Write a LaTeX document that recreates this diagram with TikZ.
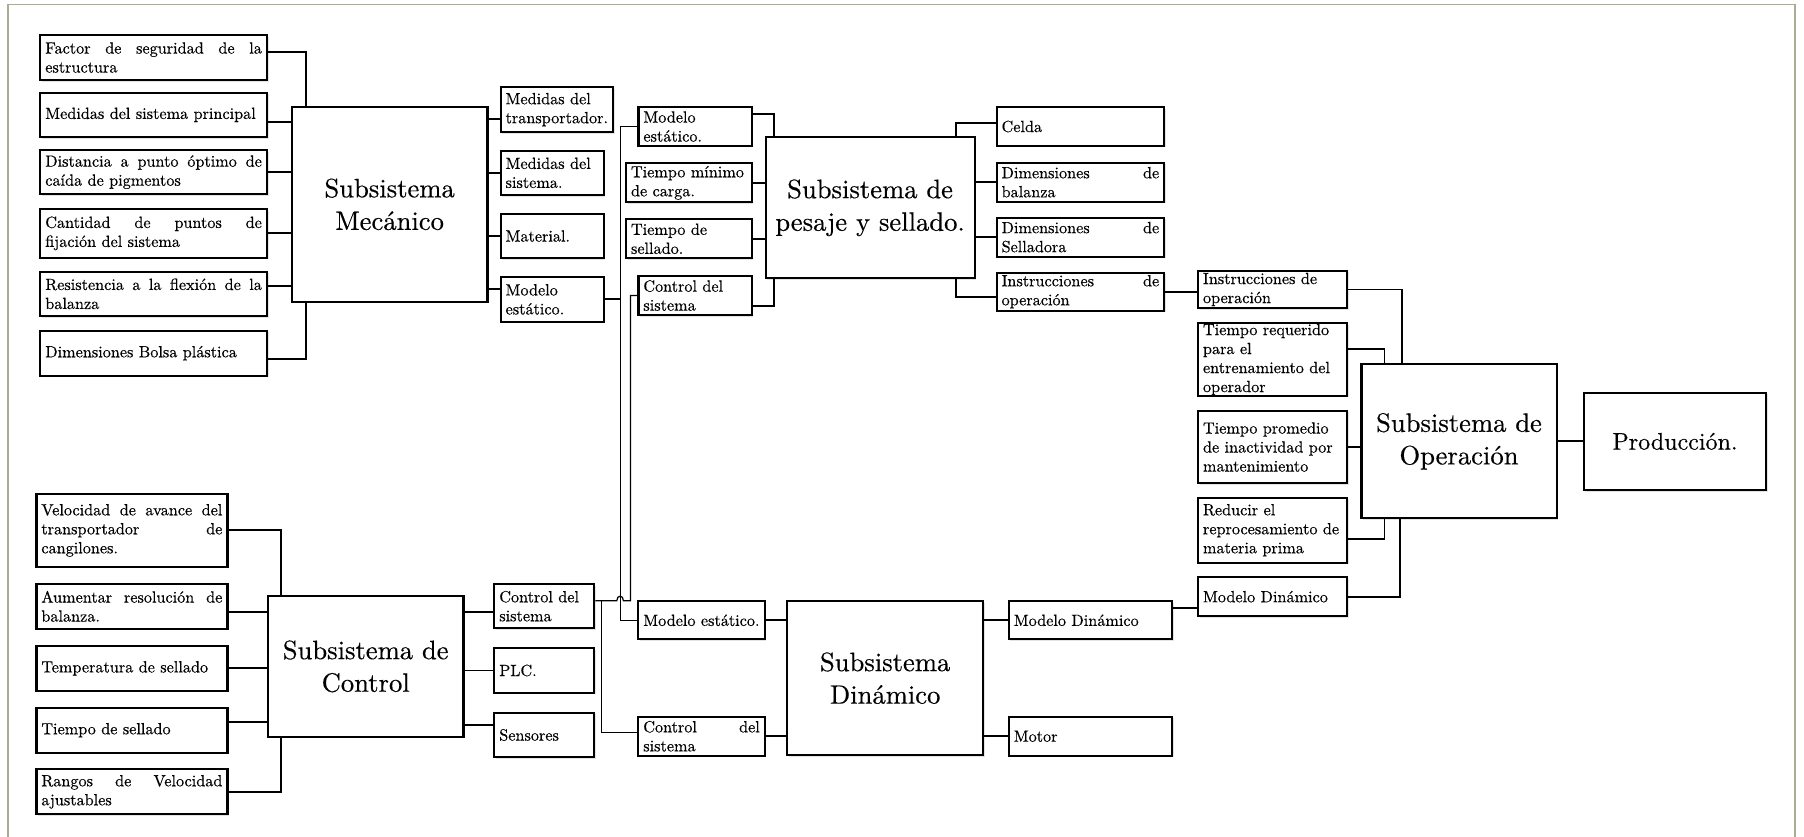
\documentclass[tikz,border=0pt]{standalone}
\usepackage{fontspec}
\setmainfont{lmroman10-regular.otf}[FakeBold=0.4]
\usetikzlibrary{shadows}
\hyphenpenalty=10000
\exhyphenpenalty=10000
\tolerance=9999
\definecolor{framec}{RGB}{168,174,146}
\newcommand\jl[1]{\leavevmode\hbox to \hsize{\spaceskip=0.3333em plus 1fil\relax #1}}
\newcommand\mkbox[7]{%
  \pgfmathsetmacro\bxw{#5-#3}%
  \pgfmathsetmacro\bxh{#6-#4}%
  \pgfmathsetmacro\bxt{#5-#3-10}%
  \pgfmathsetmacro\bxcx{(#3+#5)/2}%
  \pgfmathsetmacro\bxcy{(#4+#6)/2}%
  \node[#1, minimum width=\bxw pt, minimum height=\bxh pt, text width=\bxt pt] (#2) at (\bxcx,\bxcy) {#7};}
\newcommand\linkL[4][conn]{\path ([yshift=#3pt]#2.east) coordinate (hla); \draw[#1] (hla) -- (hla -| #4.west);}
\newcommand\linkR[4][conn]{\path ([yshift=#3pt]#4.west) coordinate (hla); \draw[#1] (hla -| #2.east) -- (hla);}
\tikzset{
  sbox/.style={draw, line width=2.2pt, fill=white, inner xsep=5pt, inner ysep=0pt, align=left,
    font=\fontsize{16.2}{19}\selectfont,
    drop shadow={shadow xshift=1.6pt, shadow yshift=-1.6pt, opacity=0.22}},
  bigbox/.style={sbox, align=center, font=\fontsize{26.6}{32.6}\selectfont},
  prodbox/.style={sbox, align=center, font=\fontsize{24}{29}\selectfont},
  conn/.style={line width=1.8pt},
  busline/.style={line width=1.2pt},
}
\begin{document}
\begin{tikzpicture}[x=1pt,y=-1pt]
\useasboundingbox[fill=white] (0,0) rectangle (1804,837);
\draw[framec, line width=1.3pt] (8,840) -- (8,4.5) -- (1795,4.5) -- (1795,840);

% Mechanical
\mkbox{sbox}{fac}{40.3}{35}{266.9}{80}{\jl{Factor de seguridad de la}\\estructura}
\mkbox{sbox}{mp}{40.3}{92.7}{266.9}{137}{Medidas del sistema principal}
\mkbox{sbox}{dis}{40.3}{150}{266.9}{194.3}{\jl{Distancia a punto óptimo de}\\caída de pigmentos}
\mkbox{sbox}{can}{40.3}{209}{266.9}{257.7}{\jl{Cantidad de puntos de}\\fijación del sistema}
\mkbox{sbox}{res}{40.3}{271.7}{266.9}{316}{\jl{Resistencia a la flexión de la}\\balanza}
\mkbox{sbox}{bol}{40.3}{330.7}{266.9}{375.7}{Dimensiones Bolsa plástica}
\mkbox{bigbox}{mec}{291.8}{107}{487.5}{301.7}{Subsistema\\Mecánico}
\mkbox{sbox}{mt}{500.6}{87.3}{612.9}{132}{Medidas del\\transportador.}
\mkbox{sbox}{ms}{500.6}{150.7}{603.6}{195}{Medidas del\\sistema.}
\mkbox{sbox}{mat}{500.6}{213.7}{603.6}{258.3}{Material.}
\mkbox{sbox}{mm}{500.6}{277}{603.6}{321.7}{Modelo\\estático.}

% Pesaje
\mkbox{sbox}{p1}{638.4}{107.3}{751.8}{145.7}{Modelo\\estático.}
\mkbox{sbox}{p2}{626}{163.3}{751.8}{202.3}{Tiempo mínimo\\de carga.}
\mkbox{sbox}{p3}{626}{219.3}{751.8}{258.3}{Tiempo de\\sellado.}
\mkbox{sbox}{p4}{638.4}{276}{751.8}{315}{Control del\\sistema}
\mkbox{bigbox}{pes}{765.6}{137.3}{974.6}{278.3}{Subsistema de\\pesaje y sellado.}
\mkbox{sbox}{cel}{996.6}{107.3}{1164.2}{145.7}{Celda}
\mkbox{sbox}{dbal}{996.6}{162.7}{1164.2}{201.7}{\jl{Dimensiones de}\\balanza}
\mkbox{sbox}{dsel}{996.6}{217.7}{1164.2}{256.7}{\jl{Dimensiones de}\\Selladora}
\mkbox{sbox}{ins}{996.6}{272.7}{1164.2}{310.7}{\jl{Instrucciones de}\\operación}

% Control
\mkbox{sbox}{vel}{36.4}{494}{227.4}{566.7}{\jl{Velocidad de avance del}\\\jl{transportador de}\\cangilones.}
\mkbox{sbox}{aum}{36.4}{584}{227.4}{628.7}{\jl{Aumentar resolución de}\\balanza.}
\mkbox{sbox}{tem}{36.4}{646}{227.4}{690.7}{Temperatura de sellado}
\mkbox{sbox}{tie}{36.4}{707.7}{227.4}{752.7}{Tiempo de sellado}
\mkbox{sbox}{ran}{36.4}{769.3}{227.4}{814.3}{\jl{Rangos de Velocidad}\\ajustables}
\mkbox{bigbox}{ctl}{268}{596}{463.4}{736.7}{Subsistema de\\Control}
\mkbox{sbox}{c1}{494.3}{584}{594.3}{628.3}{Control del\\sistema}
\mkbox{sbox}{plc}{494.3}{648.3}{594.3}{692.7}{PLC.}
\mkbox{sbox}{sen}{494.3}{712.7}{594.3}{757.3}{Sensores}

% Dinamico
\mkbox{sbox}{d1}{638.3}{601.3}{764.8}{639.3}{Modelo estático.}
\mkbox{sbox}{d2}{638.3}{716.7}{764.8}{755.7}{\jl{Control del}\\sistema}
\mkbox{bigbox}{din}{787.3}{601.3}{983}{755}{Subsistema\\Dinámico}
\mkbox{sbox}{d3}{1008.8}{601.3}{1172}{639.3}{Modelo Dinámico}
\mkbox{sbox}{mot}{1008.8}{716.7}{1172}{755.7}{Motor}

% Operacion
\mkbox{sbox}{o1}{1198}{270.7}{1347.3}{308.3}{Instrucciones de\\operación}
\mkbox{sbox}{o2}{1198}{323.3}{1347.3}{395.7}{Tiempo requerido\\para el\\entrenamiento del\\operador}
\mkbox{sbox}{o3}{1198}{410.7}{1347.3}{483.3}{Tiempo promedio\\de inactividad por\\mantenimiento}
\mkbox{sbox}{o4}{1198}{497.7}{1347.3}{562.7}{Reducir el\\reprocesamiento de\\materia prima}
\mkbox{sbox}{o5}{1198}{577.3}{1347.3}{616}{Modelo Dinámico}
\mkbox{bigbox}{op}{1361.4}{364.3}{1556.6}{518.3}{Subsistema de\\Operación}
\mkbox{prodbox}{pro}{1583.7}{392.7}{1766.3}{490}{Producción.}

% Mechanical connectors
\draw[conn] ([yshift=5.2pt]fac.east) -| ([xshift=15pt]mec.north west);
\linkL{mp}{-6.85}{mec}
\linkL{dis}{0}{mec}
\linkL{can}{0}{mec}
\linkL{res}{8.15}{mec}
\draw[conn] ([yshift=-6.1pt]bol.east) -| ([xshift=15pt]mec.south west);
\linkR{mec}{-9.65}{mt}
\linkR{mec}{0}{ms}
\linkR{mec}{0}{mat}
\linkR{mec}{10}{mm}

% Pesaje connectors
\draw[conn] ([yshift=12.2pt]p1.east) -| ([xshift=9.4pt]pes.north west);
\linkL{p2}{0}{pes}
\linkL{p3}{0}{pes}
\draw[conn] ([yshift=-10.2pt]p4.east) -| ([xshift=9.4pt]pes.south west);
\draw[conn] ([xshift=-19.6pt]pes.north east) |- ([yshift=3.8pt]cel.west);
\linkR{pes}{0}{dbal}
\linkR{pes}{0}{dsel}
\draw[conn] ([xshift=-19.6pt]pes.south east) |- ([yshift=-5.6pt]ins.west);
\linkL{ins}{0}{o1}

% Buses
\coordinate (busA) at ([xshift=15.4pt]mm.east);
\draw[conn] (mm.east) -- (busA);
\draw[busline] (p1.west) -- (p1.west -| busA) -- (d1.west -| busA) -- (d1.west);
\path ([yshift=5.45pt]c1.east) coordinate (c1o);
\coordinate (busB) at ([xshift=35pt]c1.east);
\path (c1o -| busA) coordinate (hop);
\draw[busline] (c1o) -- ([xshift=-3.3pt]hop) .. controls ([xshift=-3.3pt,yshift=6pt]hop) and ([xshift=3.3pt,yshift=6pt]hop) .. ([xshift=3.3pt]hop) -- (c1o -| busB) -- (p4.west -| busB) -- (p4.west);
\draw[busline] ([xshift=6.4pt]c1o) |- ([yshift=3.9pt]d2.west);

% Control connectors
\draw[conn] (vel.east) -| ([xshift=14pt]ctl.north west);
\linkL{aum}{-6}{ctl}
\linkL{tem}{0}{ctl}
\linkL{tie}{7.9}{ctl}
\draw[conn] (ran.east) -| ([xshift=14pt]ctl.south west);
\linkR{ctl}{-6.15}{c1}
\linkR{ctl}{0}{plc}
\linkR{ctl}{10}{sen}

% Dinamico connectors
\linkL{d1}{0}{din}
\linkL{d2}{0}{din}
\linkR{din}{0}{d3}
\linkR{din}{0}{mot}
\linkL{d3}{12}{o5}

% Operacion connectors
\draw[conn] (o1.east) -| ([xshift=41.6pt]op.north west);
\draw[conn] ([yshift=10.2pt]o2.east) -| ([xshift=24.2pt]op.north west);
\linkL{o3}{0}{op}
\draw[conn] ([yshift=-9.1pt]o4.east) -| ([xshift=24.2pt]op.south west);
\draw[conn] (o5.east) -| ([xshift=39.6pt]op.south west);
\linkL{op}{0}{pro}
\end{tikzpicture}
\end{document}
